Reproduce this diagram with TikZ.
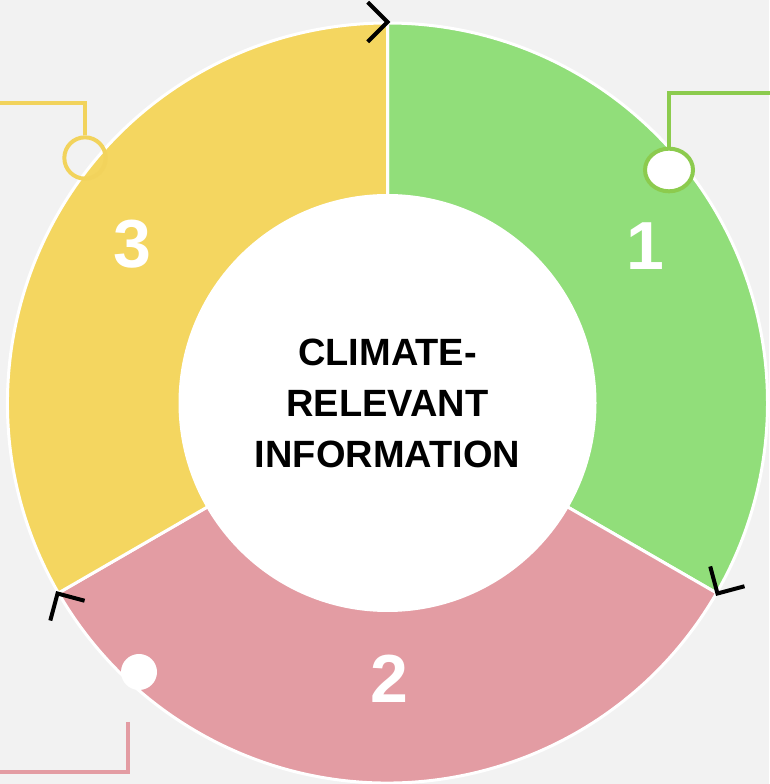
\documentclass[tikz,border=0pt]{standalone}
\usepackage{fontspec}
\setmainfont{Liberation Sans}
\usetikzlibrary{shapes.geometric}
\definecolor{bg}{HTML}{F2F2F2}
\definecolor{grn}{HTML}{91DE7A}
\definecolor{yel}{HTML}{F4D660}
\definecolor{pnk}{HTML}{E39CA3}
\definecolor{grnline}{HTML}{8CCB4E}
\definecolor{yelline}{HTML}{F2D35C}
\definecolor{pnkline}{HTML}{E39CA3}
\tikzset{
  wedge/.style={draw=white, line width=2.25pt, line join=round},
  chev/.style={draw=black, line width=3pt},
  num/.style={text=white, font=\fontsize{51}{60}\selectfont\bfseries, inner sep=0pt},
  ctext/.style={text=black, align=center, font=\fontsize{28.5}{38.25}\selectfont\bfseries, inner sep=0pt},
  callout/.style={line width=3pt},
}
\begin{document}
\begin{tikzpicture}[x=0.75pt,y=0.75pt]
\fill[bg] (0,0) rectangle (769,784);
\useasboundingbox (0,0) rectangle (769,784);
\coordinate (C) at (387.5,381);
% donut wedges
\fill[grn, wedge] (C) -- ++(90:380) arc[start angle=90, end angle=-30, radius=380] -- cycle;
\fill[pnk, wedge] (C) -- ++(-30:380) arc[start angle=-30, end angle=-150, radius=380] -- cycle;
\fill[yel, wedge] (C) -- ++(210:380) arc[start angle=210, end angle=90, radius=380] -- cycle;
\fill[white] (C) circle[radius=209];
% chevrons at boundaries
\coordinate (t1) at ([shift={(90:381)}]C);
\coordinate (t2) at ([shift={(-30:381)}]C);
\coordinate (t3) at ([shift={(210:381)}]C);
\draw[chev] ([shift={(135:28)}]t1) -- (t1) -- ([shift={(225:28)}]t1);
\draw[chev] ([shift={(105:28)}]t2) -- (t2) -- ([shift={(15:28)}]t2);
\draw[chev] ([shift={(-15:28)}]t3) -- (t3) -- ([shift={(-105:28)}]t3);
% numbers
\node[num] (n1) at (645,538) {1};
\node[num] (n2) at (389,105) {2};
\node[num] (n3) at (132.5,540) {3};
% centre text
\node[ctext] (title) at (C) {CLIMATE-\\RELEVANT\\INFORMATION};
% green callout
\node[draw=grnline, fill=white, line width=3pt, ellipse, minimum width=36, minimum height=32, inner sep=0pt] (gc) at (669,614) {};
\coordinate (gend) at (771,691);
\draw[callout, grnline] (gc.north) |- (gend);
% yellow callout
\node[draw=yelline, line width=3pt, circle, minimum size=31, inner sep=0pt] (yc) at (85,626) {};
\coordinate (yend) at (-2,681);
\draw[callout, yelline] (yc.north) |- (yend);
% pink callout
\node[fill=white, circle, minimum size=27, inner sep=0pt] (pc) at (139,112) {};
\coordinate (p1) at (128,62);
\coordinate (p2) at (-2,12);
\draw[callout, pnkline] (p1) |- (p2);
\end{tikzpicture}
\end{document}
